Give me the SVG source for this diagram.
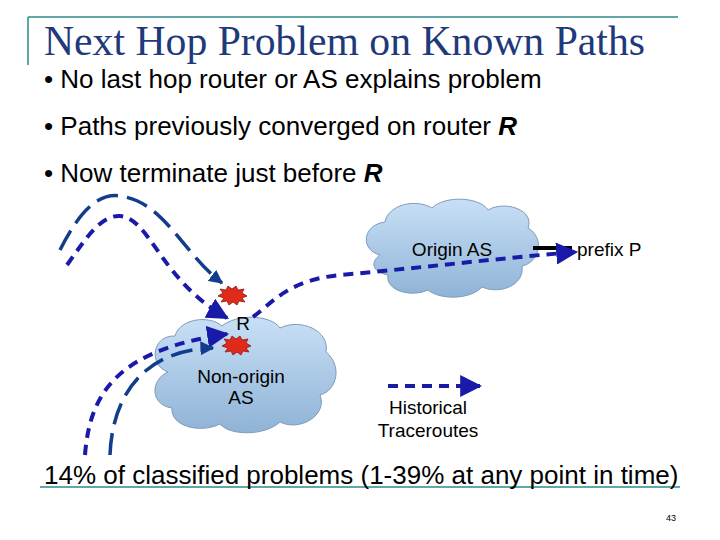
<svg xmlns="http://www.w3.org/2000/svg" width="720" height="540" viewBox="0 0 720 540">
<defs>
<linearGradient id="cg" x1="0" y1="0" x2="0" y2="1"><stop offset="0" stop-color="#c8e0f6"/><stop offset="1" stop-color="#8fb3d6"/></linearGradient>
<marker id="ah" viewBox="0 0 10 10" refX="9" refY="5" markerWidth="5.5" markerHeight="5.5" orient="auto" markerUnits="strokeWidth"><path d="M0,0L10,5L0,10z" fill="#1a1aa8"/></marker>
<marker id="ah2" viewBox="0 0 10 10" refX="9" refY="5" markerWidth="4" markerHeight="4" orient="auto" markerUnits="strokeWidth"><path d="M0,0L10,5L0,10z" fill="#123c8c"/></marker>
</defs>
<style>
.t{font-family:"Liberation Sans",Arial,sans-serif;fill:#000}
.l{font-size:19px}
.b{font-size:26px}
.cloud{fill:url(#cg);stroke:#7f9bb8;stroke-width:1}
.sd{fill:none;stroke:#1a1aa8;stroke-width:4;stroke-dasharray:10,7}
.ld{fill:none;stroke:#123c8c;stroke-width:3.5;stroke-dasharray:22,9}
.boom{fill:#e02a1a;stroke:#8a1a10;stroke-width:0.8}
</style>
<rect width="720" height="540" fill="#fff"/>
<path d="M28,17H678M28,17V65M40,487H680" stroke="#2f8a8a" stroke-width="1.5" fill="none"/>
<text x="44" y="55" font-family="'Liberation Serif','Times New Roman',serif" font-size="41.7" fill="#1f3a7a">Next Hop Problem on Known Paths</text>
<text class="t b" x="44" y="88">• No last hop router or AS explains problem</text>
<text class="t b" x="44" y="135">• Paths previously converged on router <tspan font-weight="bold" font-style="italic">R</tspan></text>
<text class="t b" x="44" y="182">• Now terminate just before <tspan font-weight="bold" font-style="italic">R</tspan></text>

<g id="origin-as">
<path class="cloud" d="M380,255C360,250 362,225 385,222C388,205 415,198 432,208C445,195 480,197 488,210C505,200 535,210 528,228C545,238 540,262 522,266C525,285 500,295 482,287C470,300 440,300 428,290C410,298 385,290 388,275C372,272 370,262 380,255Z"/>
<text class="t l" x="452" y="256" text-anchor="middle">Origin AS</text>
</g>
<g id="non-origin-as">
<path class="cloud" d="M168,372C148,365 152,335 175,336C180,318 210,315 222,326C236,314 270,314 280,328C300,318 330,330 326,352C342,365 338,390 320,395C328,415 300,432 280,422C265,436 230,436 220,424C200,434 170,426 172,408C150,405 150,380 168,372Z"/>
<text class="t l" x="241" y="383" text-anchor="middle">Non-origin</text>
<text class="t l" x="241" y="404" text-anchor="middle">AS</text>
<text class="t l" x="243" y="330" text-anchor="middle">R</text>
</g>
<g id="prefix-p">
<text class="t l" x="577" y="256">prefix P</text>
</g>
<g id="legend">
<path class="sd" d="M388,386H480" marker-end="url(#ah)"/>
<text class="t l" x="428" y="414" text-anchor="middle">Historical</text>
<text class="t l" x="428" y="437" text-anchor="middle">Traceroutes</text>
</g>
<g id="connectors">
<path d="M533,248H572" stroke="#000" stroke-width="4"/>
<path class="ld" d="M60,250C80,210 100,190 125,197C165,205 185,255 222,283" marker-end="url(#ah2)"/>
<path class="sd" d="M67,265C85,240 100,215 120,216C150,218 160,280 227,318" marker-end="url(#ah)"/>
<path class="sd" d="M85,455C90,390 120,350 227,334" marker-end="url(#ah)"/>
<path class="ld" d="M110,455C112,400 140,350 213,348" marker-end="url(#ah2)"/>
<path class="sd" d="M253,317C275,300 290,280 340,275C420,268 500,258 576,252" marker-end="url(#ah)"/>
</g>
<g id="bursts">
<path class="boom" d="M218,296l5,-3l-3,-4l6,1l2,-4l4,3l4,-3l2,4l6,-1l-2,4l5,3l-5,2l3,4l-6,-1l-2,4l-4,-3l-4,3l-2,-4l-6,1l3,-4z"/>
<path class="boom" d="M222,346l5,-3l-3,-4l6,1l2,-4l4,3l4,-3l2,4l6,-1l-2,4l5,3l-5,2l3,4l-6,-1l-2,4l-4,-3l-4,3l-2,-4l-6,1l3,-4z"/>
</g>
<text class="t" x="44" y="484" font-size="26">14% of classified problems (1-39% at any point in time)</text>
<text class="t" x="676" y="521" font-size="9" text-anchor="end">43</text>
</svg>
